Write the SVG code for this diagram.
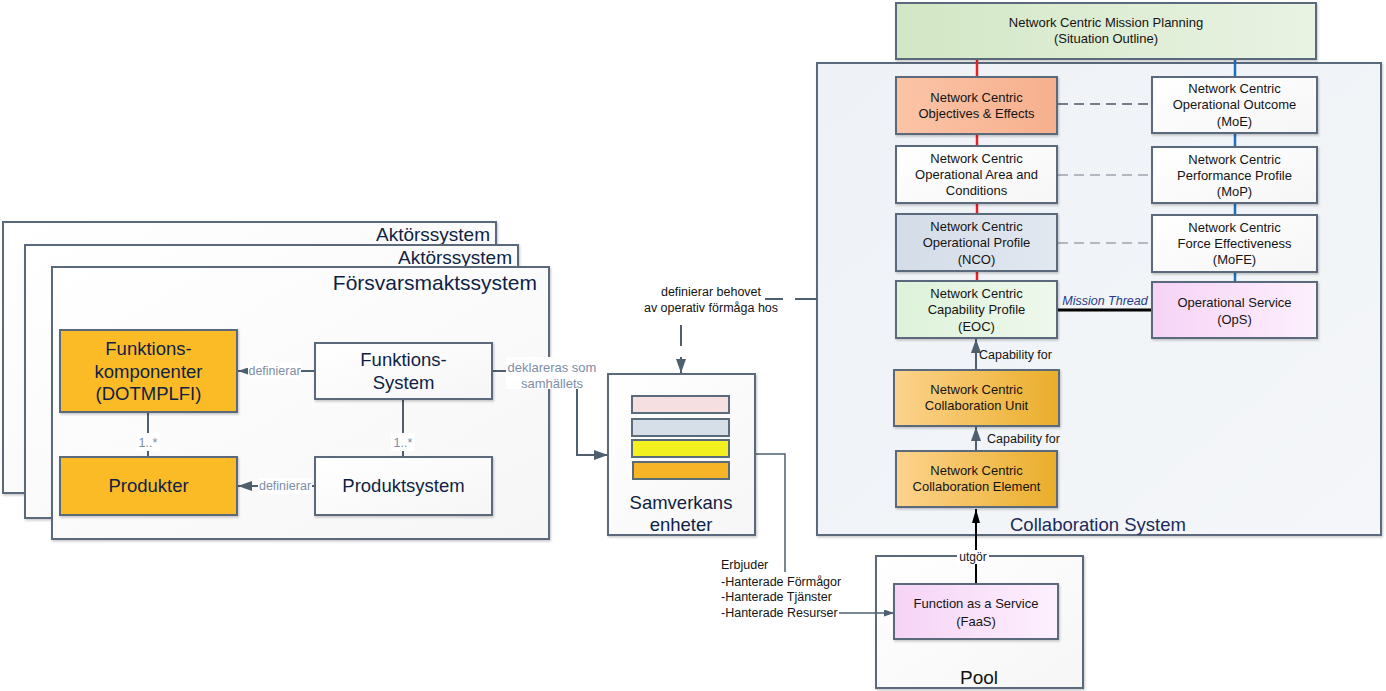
<svg xmlns="http://www.w3.org/2000/svg" width="1386" height="691" viewBox="0 0 1386 691">
<style>
.t{font-family:"Liberation Sans",Arial,sans-serif}
.box{stroke:#5a6b7c;stroke-width:2}
.big{font-size:18.5px;fill:#0f1f45;text-anchor:middle}
.hdr{fill:#0f1f45;text-anchor:end}
.sm{font-size:13px;fill:#141414;text-anchor:middle}
.lbl{font-size:12.5px;fill:#7d8da8;text-anchor:middle}
.cn{fill:none;stroke:#4e5f70;stroke-width:2}
.dk{font-size:12.5px;fill:#141414}
</style>
<defs>
<filter id="sh" x="-5%" y="-5%" width="112%" height="115%"><feDropShadow dx="1" dy="1.5" stdDeviation="1.2" flood-color="#000" flood-opacity="0.22"/></filter>
<linearGradient id="gOr" x1="0" y1="0" x2="1" y2="0"><stop offset="0" stop-color="#fdd38e"/><stop offset="1" stop-color="#eaae2a"/></linearGradient>
<linearGradient id="gSal" x1="0" y1="0" x2="1" y2="0"><stop offset="0" stop-color="#fbc4a6"/><stop offset="1" stop-color="#f6b08e"/></linearGradient>
<linearGradient id="gMP" x1="0" y1="0" x2="1" y2="0"><stop offset="0" stop-color="#d2e7c5"/><stop offset="1" stop-color="#e9f3e3"/></linearGradient>
<linearGradient id="gNCO" x1="0" y1="0" x2="1" y2="0"><stop offset="0" stop-color="#d4dce8"/><stop offset="1" stop-color="#e2e8f0"/></linearGradient>
<linearGradient id="gEOC" x1="0" y1="0" x2="1" y2="0"><stop offset="0" stop-color="#def2da"/><stop offset="1" stop-color="#eef8ec"/></linearGradient>
<linearGradient id="gPk" x1="0" y1="0" x2="1" y2="0"><stop offset="0" stop-color="#f6d3f6"/><stop offset="1" stop-color="#fdf0fd"/></linearGradient>
<linearGradient id="gW" x1="0" y1="0" x2="1" y2="1"><stop offset="0" stop-color="#ffffff"/><stop offset="1" stop-color="#f6f6f6"/></linearGradient>
<linearGradient id="gCS" x1="0" y1="0" x2="1" y2="1"><stop offset="0" stop-color="#eef2f6"/><stop offset="1" stop-color="#f4f6f9"/></linearGradient>
<marker id="aS" viewBox="0 0 14 10" refX="14" refY="5" markerWidth="14" markerHeight="10" markerUnits="userSpaceOnUse" orient="auto"><path d="M0,0 L14,5 L0,10 Z" fill="#4e5f70"/></marker>
<marker id="aT" viewBox="0 0 10 7" refX="10" refY="3.5" markerWidth="10" markerHeight="7" markerUnits="userSpaceOnUse" orient="auto"><path d="M0,0 L10,3.5 L0,7 Z" fill="#4e5f70"/></marker>
<marker id="aB" viewBox="0 0 14 8" refX="14" refY="4" markerWidth="14" markerHeight="8" markerUnits="userSpaceOnUse" orient="auto"><path d="M0,0 L14,4 L0,8 Z" fill="#000"/></marker>
</defs>
<rect width="1386" height="691" fill="#ffffff"/>

<g id="aktor1" class="t"><rect class="box" x="3" y="222" width="493" height="271" fill="url(#gW)" filter="url(#sh)"/><text class="hdr" x="490" y="241" font-size="19">Aktörssystem</text></g>
<g id="aktor2" class="t"><rect class="box" x="25" y="245" width="493" height="273" fill="url(#gW)" filter="url(#sh)"/><text class="hdr" x="512" y="264" font-size="19">Aktörssystem</text></g>
<g id="forsvar" class="t"><rect class="box" x="52" y="267" width="497" height="272" fill="url(#gW)" filter="url(#sh)"/><text class="hdr" x="537" y="290" font-size="21">Försvarsmaktssystem</text></g>

<g id="collabsys" class="t"><rect class="box" x="817" y="63" width="564" height="472" fill="url(#gCS)" filter="url(#sh)"/><text x="1010" y="531" font-size="18.5" fill="#1b2a5a">Collaboration System</text></g>
<g id="pool" class="t"><rect class="box" x="876" y="556" width="207" height="132" fill="url(#gW)" filter="url(#sh)"/><text x="979" y="684" font-size="19" fill="#111" text-anchor="middle">Pool</text></g>

<g id="connectors" class="t">
<line x1="977" y1="59" x2="977" y2="281" stroke="#e8202a" stroke-width="2.5"/>
<line x1="1235" y1="56" x2="1235" y2="283" stroke="#1a6fc0" stroke-width="2.5"/>
<line x1="1058" y1="104" x2="1152" y2="104" stroke="#4a5a6a" stroke-width="1.5" stroke-dasharray="10,6"/>
<line x1="1058" y1="175" x2="1152" y2="175" stroke="#9aa4ae" stroke-width="1.5" stroke-dasharray="10,6"/>
<line x1="1058" y1="243" x2="1152" y2="243" stroke="#9aa4ae" stroke-width="1.5" stroke-dasharray="10,6"/>
<line x1="1057" y1="310" x2="1152" y2="310" stroke="#000" stroke-width="3"/>
<text x="1105" y="305" font-size="12.5" font-style="italic" fill="#2a3a8a" text-anchor="middle">Mission Thread</text>
<line class="cn" x1="976" y1="370" x2="976" y2="339" marker-end="url(#aS)"/>
<text class="dk" x="979" y="359">Capability for</text>
<line class="cn" x1="976" y1="451" x2="976" y2="427" marker-end="url(#aS)"/>
<text class="dk" x="987" y="443">Capability for</text>
<line x1="976" y1="584" x2="976" y2="509" stroke="#000" stroke-width="2" marker-end="url(#aB)"/>
<rect x="957" y="550" width="32" height="14" fill="#ffffff"/>
<text x="973" y="561" font-size="12" fill="#141414" text-anchor="middle">utgör</text>
<path class="cn" d="M817,299 H795 M783,299 H765"/>
<path class="cn" d="M681,325 V346 M681,357 V373" marker-end="url(#aS)"/>
<text class="dk" x="711" y="296" text-anchor="middle">definierar behovet</text>
<text class="dk" x="711" y="312" text-anchor="middle">av operativ förmåga hos</text>
<path class="cn" d="M492,371 H577 V455 H608" marker-end="url(#aS)"/>
<rect x="506" y="357" width="92" height="32" fill="#ffffff"/>
<text x="552" y="372" font-size="13" fill="#7d8da8" text-anchor="middle">deklareras som</text>
<text x="552" y="388" font-size="13" fill="#7d8da8" text-anchor="middle">samhällets</text>
<line class="cn" x1="315" y1="371" x2="238" y2="371" marker-end="url(#aT)"/>
<rect x="248" y="363" width="53" height="16" fill="#ffffff"/>
<text class="lbl" x="274.5" y="375">definierar</text>
<line class="cn" x1="315" y1="486" x2="238" y2="486" marker-end="url(#aS)"/>
<rect x="258" y="478" width="54" height="16" fill="#ffffff"/>
<text class="lbl" x="285" y="490">definierar</text>
<line class="cn" x1="148" y1="412" x2="148" y2="457"/>
<rect x="136" y="433" width="24" height="18" fill="#ffffff"/>
<text class="lbl" x="148" y="447" fill="#a0aabb">1..*</text>
<line class="cn" x1="403" y1="399" x2="403" y2="457"/>
<rect x="391" y="433" width="24" height="18" fill="#ffffff"/>
<text class="lbl" x="403" y="447" fill="#a0aabb">1..*</text>
<path fill="none" stroke="#4e5f70" stroke-width="1.5" d="M755,454 H785 V572"/>
<line x1="839" y1="613" x2="894" y2="613" stroke="#4e5f70" stroke-width="1.5" marker-end="url(#aT)"/>
<text class="dk" x="721" y="569">Erbjuder</text>
<text class="dk" x="721" y="586">-Hanterade Förmågor</text>
<text class="dk" x="721" y="601">-Hanterade Tjänster</text>
<text class="dk" x="721" y="617">-Hanterade Resurser</text>
</g>

<g id="fk" class="t"><rect class="box" x="60" y="330" width="177" height="82" fill="#fbbb27" filter="url(#sh)"/><text class="big" x="148.5" y="355">Funktions-</text><text class="big" x="148.5" y="378">komponenter</text><text class="big" x="148.5" y="400">(DOTMPLFI)</text></g>
<g id="produkter" class="t"><rect class="box" x="60" y="457" width="177" height="58" fill="#fbbb27" filter="url(#sh)"/><text class="big" x="148.5" y="492">Produkter</text></g>
<g id="fs" class="t"><rect class="box" x="315" y="343" width="177" height="56" fill="url(#gW)" filter="url(#sh)"/><text class="big" x="403.5" y="366">Funktions-</text><text class="big" x="403.5" y="389">System</text></g>
<g id="ps" class="t"><rect class="box" x="315" y="457" width="177" height="58" fill="url(#gW)" filter="url(#sh)"/><text class="big" x="403.5" y="492">Produktsystem</text></g>

<g id="samverkans" class="t"><rect class="box" x="608" y="374" width="147" height="161" fill="url(#gW)" filter="url(#sh)"/>
<rect x="632" y="396" width="97" height="17" fill="#f6dfe0" stroke="#5a6b7c" stroke-width="2"/>
<rect x="632" y="419" width="97" height="17" fill="#d6dfe8" stroke="#5a6b7c" stroke-width="2"/>
<rect x="632" y="440" width="97" height="17" fill="#f2f01e" stroke="#5a6b7c" stroke-width="2"/>
<rect x="633" y="462" width="96" height="17" fill="#f6b426" stroke="#5a6b7c" stroke-width="2"/>
<text class="big" x="681" y="509" font-size="19">Samverkans</text><text class="big" x="681" y="531" font-size="19">enheter</text></g>

<g id="mp" class="t"><rect class="box" x="896" y="3" width="420" height="56" fill="url(#gMP)" filter="url(#sh)"/><text class="sm" x="1106" y="27">Network Centric Mission Planning</text><text class="sm" x="1106" y="43">(Situation Outline)</text></g>
<g id="obj" class="t"><rect class="box" x="896" y="77" width="161" height="57" fill="url(#gSal)" filter="url(#sh)"/><text class="sm" x="976.5" y="102">Network Centric</text><text class="sm" x="976.5" y="118">Objectives &amp; Effects</text></g>
<g id="area" class="t"><rect class="box" x="896" y="146" width="161" height="57" fill="url(#gW)" filter="url(#sh)"/><text class="sm" x="976.5" y="163">Network Centric</text><text class="sm" x="976.5" y="179">Operational Area and</text><text class="sm" x="976.5" y="195">Conditions</text></g>
<g id="nco" class="t"><rect class="box" x="896" y="214" width="161" height="57" fill="url(#gNCO)" filter="url(#sh)"/><text class="sm" x="976.5" y="231">Network Centric</text><text class="sm" x="976.5" y="247">Operational Profile</text><text class="sm" x="976.5" y="264">(NCO)</text></g>
<g id="eoc" class="t"><rect class="box" x="896" y="281" width="161" height="57" fill="url(#gEOC)" filter="url(#sh)"/><text class="sm" x="976.5" y="298">Network Centric</text><text class="sm" x="976.5" y="314">Capability Profile</text><text class="sm" x="976.5" y="331">(EOC)</text></g>
<g id="moe" class="t"><rect class="box" x="1152" y="77" width="165" height="56" fill="url(#gW)" filter="url(#sh)"/><text class="sm" x="1234.5" y="93">Network Centric</text><text class="sm" x="1234.5" y="109">Operational Outcome</text><text class="sm" x="1234.5" y="126">(MoE)</text></g>
<g id="mop" class="t"><rect class="box" x="1152" y="147" width="165" height="56" fill="url(#gW)" filter="url(#sh)"/><text class="sm" x="1234.5" y="164">Network Centric</text><text class="sm" x="1234.5" y="180">Performance Profile</text><text class="sm" x="1234.5" y="196">(MoP)</text></g>
<g id="mofe" class="t"><rect class="box" x="1152" y="215" width="165" height="57" fill="url(#gW)" filter="url(#sh)"/><text class="sm" x="1234.5" y="232">Network Centric</text><text class="sm" x="1234.5" y="248">Force Effectiveness</text><text class="sm" x="1234.5" y="264">(MoFE)</text></g>
<g id="ops" class="t"><rect class="box" x="1152" y="282" width="165" height="56" fill="url(#gPk)" filter="url(#sh)"/><text class="sm" x="1234.5" y="307">Operational Service</text><text class="sm" x="1234.5" y="324">(OpS)</text></g>
<g id="cu" class="t"><rect class="box" x="894" y="370" width="165" height="56" fill="url(#gOr)" filter="url(#sh)"/><text class="sm" x="976.5" y="394">Network Centric</text><text class="sm" x="976.5" y="410">Collaboration Unit</text></g>
<g id="ce" class="t"><rect class="box" x="896" y="451" width="161" height="56" fill="url(#gOr)" filter="url(#sh)"/><text class="sm" x="976.5" y="475">Network Centric</text><text class="sm" x="976.5" y="491">Collaboration Element</text></g>
<g id="faas" class="t"><rect class="box" x="894" y="584" width="164" height="55" fill="url(#gPk)" filter="url(#sh)"/><text class="sm" x="976" y="608">Function as a Service</text><text class="sm" x="976" y="626">(FaaS)</text></g>
</svg>
